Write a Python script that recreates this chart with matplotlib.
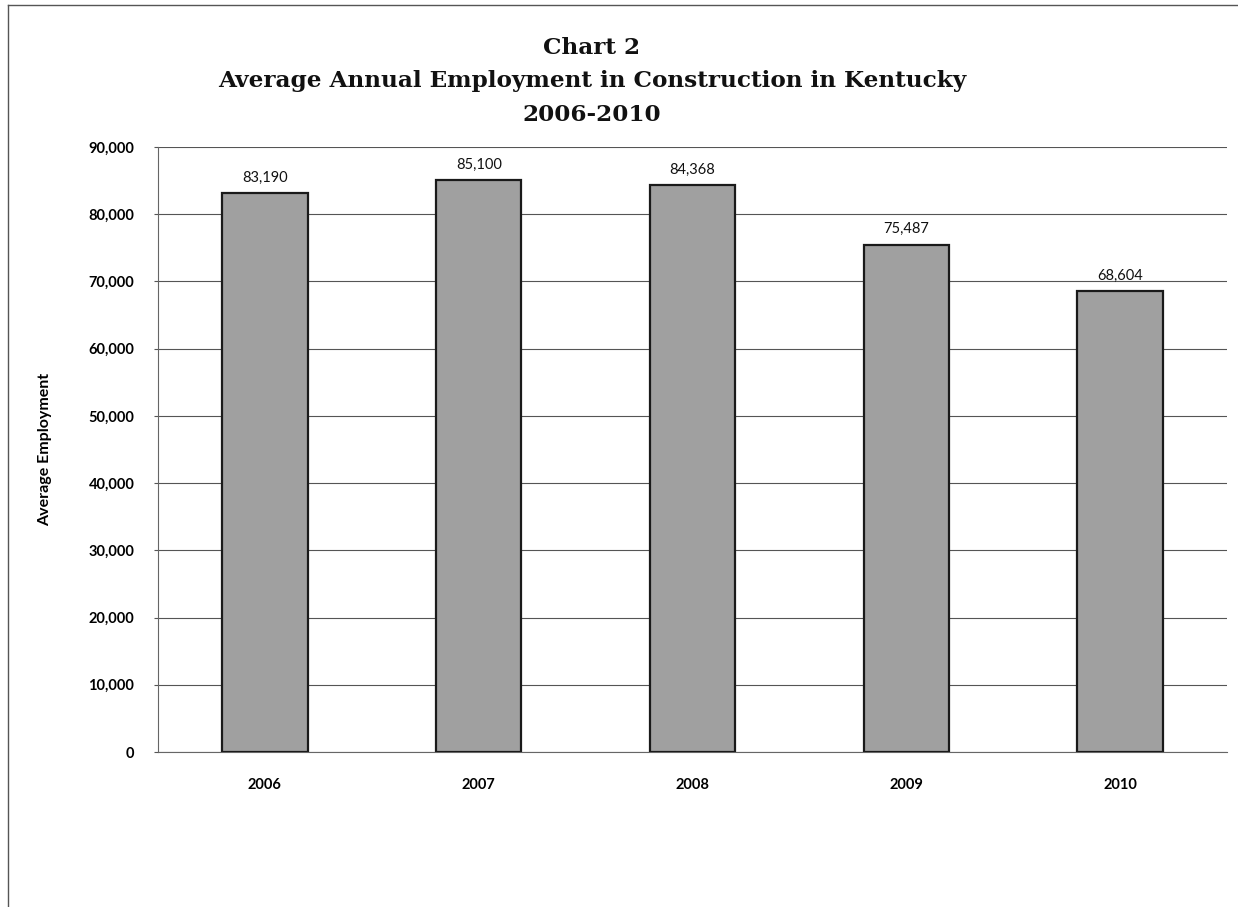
import matplotlib
matplotlib.use('Agg')
import matplotlib.pyplot as plt
from matplotlib.lines import Line2D
import numpy as np

years = ['2006', '2007', '2008', '2009', '2010']
employment = [83190, 85100, 84368, 75487, 68604]
value_labels = ['83,190', '85,100', '84,368', '75,487', '68,604']
yticks = [0, 10000, 20000, 30000, 40000, 50000, 60000, 70000, 80000, 90000]
ytick_labels = ['0', '10,000', '20,000', '30,000', '40,000', '50,000', '60,000', '70,000', '80,000', '90,000']
title_lines = ['Chart 2', 'Average Annual Employment in Construction in Kentucky', '2006-2010']

plt.rcParams['font.family'] = ['Lato', 'DejaVu Sans']

fig = plt.figure(figsize=(12.38, 9.07), dpi=100)
ax = fig.add_axes([158/1238, 1-752/907, (1227-158)/1238, (752-147)/907])

x = np.arange(len(years))
ax.bar(x, employment, width=0.40, color='#a0a0a0', edgecolor='#1a1a1a', linewidth=1.6, zorder=3)

for xi, v, lab in zip(x, employment, value_labels):
    ax.annotate(lab, (xi, v), xytext=(0, 6), textcoords='offset points',
                ha='center', va='bottom', fontsize=10.5, color='#111111')

ax.set_xlim(-0.5, len(years)-0.5)
ax.set_ylim(0, 90000)
ax.set_yticks(yticks)
ax.set_yticklabels(ytick_labels, fontsize=10.5, fontweight='bold')
ax.set_xticks(x)
ax.set_xticklabels(years, fontsize=10.5, fontweight='bold')
ax.tick_params(axis='x', length=0, pad=19)
ax.tick_params(axis='y', length=3, width=0.8, color='#555555', pad=14)
ax.yaxis.grid(True, color='#555555', linewidth=0.8, zorder=0)
ax.set_axisbelow(True)

for s in ['top', 'right']:
    ax.spines[s].set_visible(False)
ax.spines['left'].set_color('#666666')
ax.spines['bottom'].set_color('#666666')
ax.spines['left'].set_linewidth(0.8)
ax.spines['bottom'].set_linewidth(0.8)

fig.text(45/1238, 1-449/907, 'Average Employment', rotation=90, ha='center', va='center',
         fontsize=11.5, fontweight='bold')

for i, line in enumerate(title_lines):
    fig.text(592/1238, 1-(48+33.5*i)/907, line, ha='center', va='center',
             fontsize=16.7, fontweight='bold', family='DejaVu Serif', color='#111111')

# outer frame of the scanned page
fig.add_artist(Line2D([8/1238, 8/1238], [0, 1-5/907], color='#555555', linewidth=1.0))
fig.add_artist(Line2D([8/1238, 1], [1-5/907, 1-5/907], color='#555555', linewidth=1.0))

fig.savefig('out.png', dpi=100, facecolor='white')
